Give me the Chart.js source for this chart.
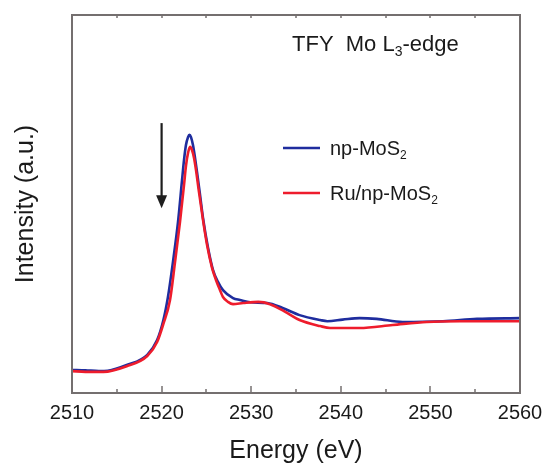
<!DOCTYPE html>
<html>
<head>
<meta charset="utf-8">
<script src="https://cdn.jsdelivr.net/npm/chart.js@4.4.1/dist/chart.umd.min.js"></script>
<style>
  html, body { margin: 0; padding: 0; background: #ffffff; }
  #wrap { width: 544px; height: 464px; }
</style>
</head>
<body>
<div id="wrap"><canvas id="chart" width="544" height="464"></canvas></div>
<script>
// Mo L3-edge TFY spectra (arbitrary intensity units)
const energyNp = [2510.0, 2511.5, 2513.0, 2514.0, 2516.1, 2518.4, 2519.5, 2520.2, 2520.71, 2521.27,
  2521.83, 2522.28, 2522.5, 2522.72, 2522.95, 2523.11, 2523.28, 2523.5, 2523.73, 2523.95,
  2524.29, 2524.62, 2525.18, 2525.74, 2526.29, 2526.85, 2527.97, 2528.75, 2529.9, 2531.8,
  2533.5, 2535.4, 2537.7, 2538.5, 2540.2, 2542.1, 2544.0, 2546.9, 2551.4, 2555.2,
  2560.0];
const intensityNp = [0.061, 0.060, 0.058, 0.059, 0.074, 0.101, 0.140, 0.193, 0.254, 0.347,
  0.452, 0.563, 0.616, 0.656, 0.677, 0.683, 0.677, 0.656, 0.622, 0.585,
  0.524, 0.463, 0.384, 0.325, 0.294, 0.272, 0.251, 0.246, 0.240, 0.238,
  0.225, 0.206, 0.193, 0.190, 0.194, 0.198, 0.196, 0.188, 0.190, 0.196,
  0.198];

const energyRu = [2510.0, 2511.5, 2513.5, 2516.1, 2518.4, 2519.5, 2520.2, 2520.94, 2521.5, 2522.05,
  2522.5, 2522.72, 2522.95, 2523.17, 2523.39, 2523.62, 2523.84, 2524.17, 2524.62, 2525.07,
  2525.63, 2526.07, 2526.52, 2526.85, 2527.41, 2527.97, 2529.1, 2530.8, 2532.1, 2534.0,
  2535.4, 2537.7, 2538.8, 2542.1, 2545.8, 2549.6, 2553.3, 2560.0];
const intensityRu = [0.058, 0.056, 0.056, 0.071, 0.098, 0.135, 0.183, 0.246, 0.347, 0.452,
  0.550, 0.601, 0.635, 0.651, 0.643, 0.622, 0.590, 0.532, 0.458, 0.392,
  0.331, 0.299, 0.272, 0.254, 0.241, 0.235, 0.238, 0.241, 0.235, 0.212,
  0.193, 0.177, 0.172, 0.172, 0.180, 0.188, 0.190, 0.190];

const xTickValues = [2510, 2520, 2530, 2540, 2550, 2560];
const seriesLabels = ['np-MoS', 'Ru/np-MoS'];   // each followed by subscript 2
const seriesColors = ['#1f2d9e', '#ee1c2c'];

const FONT = "'Liberation Sans', Arial, Helvetica, sans-serif";
const TEXT = '#1a1a1a';
const AXIS = '#746f6f';

const toPoints = (xs, ys) => xs.map((e, i) => ({ x: e, y: ys[i] }));

// text run with optional subscript pieces: [[text, isSub], ...]
function drawRuns(ctx, runs, x, y, size) {
  let cx = x;
  ctx.textBaseline = 'middle';
  ctx.textAlign = 'left';
  for (const [t, sub] of runs) {
    const s = sub ? Math.round(size * 0.62) : size;
    ctx.font = `${s}px ${FONT}`;
    ctx.fillText(t, cx, sub ? y + size * 0.32 : y);
    cx += ctx.measureText(t).width;
  }
}

const decorations = {
  id: 'decorations',
  afterDatasetsDraw(chart) {
    const { ctx, chartArea: a, scales: { x, y } } = chart;
    ctx.save();

    // tick marks (inward), majors every 10 eV, minors every 5 eV
    ctx.strokeStyle = AXIS;
    ctx.lineWidth = 1.5;
    for (let v = x.min; v <= x.max; v += 5) {
      const px = Math.round(x.getPixelForValue(v));
      const major = xTickValues.includes(v);
      ctx.beginPath();
      ctx.moveTo(px, a.bottom);
      ctx.lineTo(px, a.bottom - (major ? 7 : 4));
      ctx.stroke();
      ctx.beginPath();
      ctx.moveTo(px, a.top);
      ctx.lineTo(px, a.top + 3);
      ctx.stroke();
    }

    // plot frame
    ctx.lineWidth = 2;
    ctx.strokeRect(a.left, a.top, a.right - a.left, a.bottom - a.top);

    // arrow marking the pre-edge region
    const ax = x.getPixelForValue(2520);
    const yTop = y.getPixelForValue(0.714);
    const yTip = y.getPixelForValue(0.489);
    ctx.strokeStyle = '#1e1e1e';
    ctx.fillStyle = '#1e1e1e';
    ctx.lineWidth = 2.2;
    ctx.beginPath();
    ctx.moveTo(ax, yTop);
    ctx.lineTo(ax, yTip - 10);
    ctx.stroke();
    ctx.beginPath();
    ctx.moveTo(ax - 5.5, yTip - 13);
    ctx.lineTo(ax + 5.5, yTip - 13);
    ctx.lineTo(ax, yTip);
    ctx.closePath();
    ctx.fill();

    // heading
    ctx.fillStyle = TEXT;
    drawRuns(ctx, [['TFY  Mo L', false], ['3', true], ['-edge', false]], a.left + 220, a.top + 30, 22);

    // legend
    const rows = [a.top + 133, a.top + 178];
    seriesLabels.forEach((lab, i) => {
      const ly = rows[i];
      ctx.strokeStyle = seriesColors[i];
      ctx.lineWidth = 2.5;
      ctx.beginPath();
      ctx.moveTo(a.left + 211, ly);
      ctx.lineTo(a.left + 248, ly);
      ctx.stroke();
      ctx.fillStyle = TEXT;
      drawRuns(ctx, [[lab, false], ['2', true]], a.left + 258, ly + 1, 20);
    });

    ctx.restore();
  }
};

new Chart(document.getElementById('chart'), {
  type: 'line',
  data: {
    datasets: [
      {
        label: seriesLabels[1] + '2',
        data: toPoints(energyRu, intensityRu),
        borderColor: seriesColors[1],
        borderWidth: 2.6,
        pointRadius: 0,
        cubicInterpolationMode: 'monotone',
        fill: false
      },
      {
        label: seriesLabels[0] + '2',
        data: toPoints(energyNp, intensityNp),
        borderColor: seriesColors[0],
        borderWidth: 2.6,
        pointRadius: 0,
        cubicInterpolationMode: 'monotone',
        fill: false
      }
    ]
  },
  options: {
    responsive: false,
    devicePixelRatio: 1,
    animation: false,
    layout: { padding: { top: 15, right: 24, left: 0, bottom: 0 } },
    plugins: { legend: { display: false }, tooltip: { enabled: false } },
    scales: {
      x: {
        type: 'linear',
        min: 2510,
        max: 2560,
        afterFit: s => { s.height = 71; s.paddingLeft = 0; s.paddingRight = 0; },
        afterBuildTicks: s => { s.ticks = xTickValues.map(v => ({ value: v })); },
        ticks: {
          color: TEXT,
          font: { family: FONT, size: 20 },
          padding: 8,
          maxRotation: 0,
          callback: v => String(v)
        },
        grid: { display: false, drawTicks: false },
        border: { display: false },
        title: {
          display: true,
          text: 'Energy (eV)',
          color: TEXT,
          font: { family: FONT, size: 25, lineHeight: 1.0 },
          padding: { top: 0, bottom: 0 }
        }
      },
      y: {
        min: 0,
        max: 1,
        afterFit: s => { s.width = 72; },
        ticks: { display: false },
        grid: { display: false, drawTicks: false },
        border: { display: false },
        title: {
          display: true,
          text: 'Intensity (a.u.)',
          color: TEXT,
          font: { family: FONT, size: 25 },
          padding: { top: 11, bottom: 0 }
        }
      }
    }
  },
  plugins: [decorations]
});
</script>
</body>
</html>
